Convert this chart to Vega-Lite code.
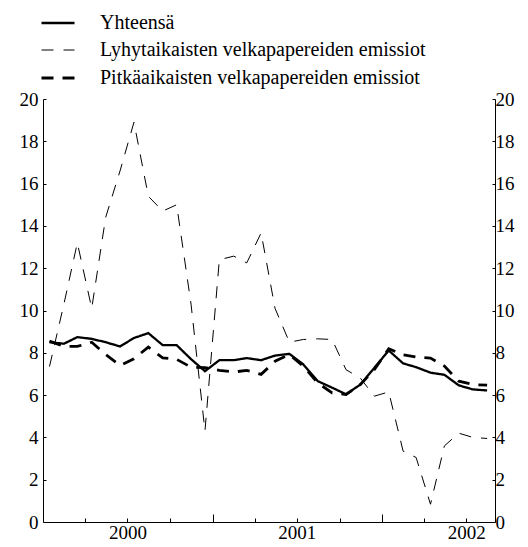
{
  "$schema": "https://vega.github.io/schema/vega-lite/v6.json",
  "width": 452,
  "height": 423,
  "autosize": {"type": "none"},
  "padding": {"left": 43, "top": 99, "right": 33, "bottom": 25},
  "background": "white",
  "config": {
    "view": {"stroke": null},
    "font": "Liberation Serif",
    "axis": {"grid": false, "domainColor": "black", "tickColor": "black", "labelColor": "black", "labelFont": "Liberation Serif", "labelFontSize": 19, "domainWidth": 1, "tickWidth": 1, "title": null},
    "legend": {"labelFont": "Liberation Serif"}
  },
  "data": {"values": [
    {"date": "2000-01-15", "series": "Yhteensä", "value": 8.5},
    {"date": "2000-02-15", "series": "Yhteensä", "value": 8.43},
    {"date": "2000-03-15", "series": "Yhteensä", "value": 8.74},
    {"date": "2000-04-15", "series": "Yhteensä", "value": 8.66},
    {"date": "2000-05-15", "series": "Yhteensä", "value": 8.5},
    {"date": "2000-06-15", "series": "Yhteensä", "value": 8.3},
    {"date": "2000-07-15", "series": "Yhteensä", "value": 8.7},
    {"date": "2000-08-15", "series": "Yhteensä", "value": 8.93},
    {"date": "2000-09-15", "series": "Yhteensä", "value": 8.36},
    {"date": "2000-10-15", "series": "Yhteensä", "value": 8.36},
    {"date": "2000-11-15", "series": "Yhteensä", "value": 7.7},
    {"date": "2000-12-15", "series": "Yhteensä", "value": 7.13},
    {"date": "2001-01-15", "series": "Yhteensä", "value": 7.65},
    {"date": "2001-02-15", "series": "Yhteensä", "value": 7.65},
    {"date": "2001-03-15", "series": "Yhteensä", "value": 7.75},
    {"date": "2001-04-15", "series": "Yhteensä", "value": 7.65},
    {"date": "2001-05-15", "series": "Yhteensä", "value": 7.87},
    {"date": "2001-06-15", "series": "Yhteensä", "value": 7.95},
    {"date": "2001-07-15", "series": "Yhteensä", "value": 7.45},
    {"date": "2001-08-15", "series": "Yhteensä", "value": 6.66},
    {"date": "2001-09-15", "series": "Yhteensä", "value": 6.35},
    {"date": "2001-10-15", "series": "Yhteensä", "value": 6.04},
    {"date": "2001-11-15", "series": "Yhteensä", "value": 6.5},
    {"date": "2001-12-15", "series": "Yhteensä", "value": 7.29},
    {"date": "2002-01-15", "series": "Yhteensä", "value": 8.11},
    {"date": "2002-02-15", "series": "Yhteensä", "value": 7.5},
    {"date": "2002-03-15", "series": "Yhteensä", "value": 7.32},
    {"date": "2002-04-15", "series": "Yhteensä", "value": 7.06},
    {"date": "2002-05-15", "series": "Yhteensä", "value": 6.96},
    {"date": "2002-06-15", "series": "Yhteensä", "value": 6.46},
    {"date": "2002-07-15", "series": "Yhteensä", "value": 6.27},
    {"date": "2002-08-15", "series": "Yhteensä", "value": 6.22},
    {"date": "2000-01-15", "series": "Lyhytaikaisten velkapapereiden emissiot", "value": 7.35},
    {"date": "2000-02-15", "series": "Lyhytaikaisten velkapapereiden emissiot", "value": 10.3},
    {"date": "2000-03-15", "series": "Lyhytaikaisten velkapapereiden emissiot", "value": 13.2},
    {"date": "2000-04-15", "series": "Lyhytaikaisten velkapapereiden emissiot", "value": 10.1},
    {"date": "2000-05-15", "series": "Lyhytaikaisten velkapapereiden emissiot", "value": 14.4},
    {"date": "2000-06-15", "series": "Lyhytaikaisten velkapapereiden emissiot", "value": 16.6},
    {"date": "2000-07-15", "series": "Lyhytaikaisten velkapapereiden emissiot", "value": 18.9},
    {"date": "2000-08-15", "series": "Lyhytaikaisten velkapapereiden emissiot", "value": 15.4},
    {"date": "2000-09-15", "series": "Lyhytaikaisten velkapapereiden emissiot", "value": 14.7},
    {"date": "2000-10-15", "series": "Lyhytaikaisten velkapapereiden emissiot", "value": 15.0},
    {"date": "2000-11-15", "series": "Lyhytaikaisten velkapapereiden emissiot", "value": 10.3},
    {"date": "2000-12-15", "series": "Lyhytaikaisten velkapapereiden emissiot", "value": 4.3},
    {"date": "2001-01-15", "series": "Lyhytaikaisten velkapapereiden emissiot", "value": 12.4},
    {"date": "2001-02-15", "series": "Lyhytaikaisten velkapapereiden emissiot", "value": 12.57},
    {"date": "2001-03-15", "series": "Lyhytaikaisten velkapapereiden emissiot", "value": 12.25},
    {"date": "2001-04-15", "series": "Lyhytaikaisten velkapapereiden emissiot", "value": 13.67},
    {"date": "2001-05-15", "series": "Lyhytaikaisten velkapapereiden emissiot", "value": 10.1},
    {"date": "2001-06-15", "series": "Lyhytaikaisten velkapapereiden emissiot", "value": 8.5},
    {"date": "2001-07-15", "series": "Lyhytaikaisten velkapapereiden emissiot", "value": 8.63},
    {"date": "2001-08-15", "series": "Lyhytaikaisten velkapapereiden emissiot", "value": 8.66},
    {"date": "2001-09-15", "series": "Lyhytaikaisten velkapapereiden emissiot", "value": 8.63},
    {"date": "2001-10-15", "series": "Lyhytaikaisten velkapapereiden emissiot", "value": 7.2},
    {"date": "2001-11-15", "series": "Lyhytaikaisten velkapapereiden emissiot", "value": 6.8},
    {"date": "2001-12-15", "series": "Lyhytaikaisten velkapapereiden emissiot", "value": 5.95},
    {"date": "2002-01-15", "series": "Lyhytaikaisten velkapapereiden emissiot", "value": 6.15},
    {"date": "2002-02-15", "series": "Lyhytaikaisten velkapapereiden emissiot", "value": 3.35},
    {"date": "2002-03-15", "series": "Lyhytaikaisten velkapapereiden emissiot", "value": 3.05},
    {"date": "2002-04-15", "series": "Lyhytaikaisten velkapapereiden emissiot", "value": 0.84},
    {"date": "2002-05-15", "series": "Lyhytaikaisten velkapapereiden emissiot", "value": 3.6},
    {"date": "2002-06-15", "series": "Lyhytaikaisten velkapapereiden emissiot", "value": 4.2},
    {"date": "2002-07-15", "series": "Lyhytaikaisten velkapapereiden emissiot", "value": 4.0},
    {"date": "2002-08-15", "series": "Lyhytaikaisten velkapapereiden emissiot", "value": 3.95},
    {"date": "2000-01-15", "series": "Pitkäaikaisten velkapapereiden emissiot", "value": 8.55},
    {"date": "2000-02-15", "series": "Pitkäaikaisten velkapapereiden emissiot", "value": 8.3},
    {"date": "2000-03-15", "series": "Pitkäaikaisten velkapapereiden emissiot", "value": 8.3},
    {"date": "2000-04-15", "series": "Pitkäaikaisten velkapapereiden emissiot", "value": 8.5},
    {"date": "2000-05-15", "series": "Pitkäaikaisten velkapapereiden emissiot", "value": 7.92},
    {"date": "2000-06-15", "series": "Pitkäaikaisten velkapapereiden emissiot", "value": 7.4},
    {"date": "2000-07-15", "series": "Pitkäaikaisten velkapapereiden emissiot", "value": 7.72},
    {"date": "2000-08-15", "series": "Pitkäaikaisten velkapapereiden emissiot", "value": 8.27},
    {"date": "2000-09-15", "series": "Pitkäaikaisten velkapapereiden emissiot", "value": 7.76},
    {"date": "2000-10-15", "series": "Pitkäaikaisten velkapapereiden emissiot", "value": 7.69},
    {"date": "2000-11-15", "series": "Pitkäaikaisten velkapapereiden emissiot", "value": 7.32},
    {"date": "2000-12-15", "series": "Pitkäaikaisten velkapapereiden emissiot", "value": 7.3},
    {"date": "2001-01-15", "series": "Pitkäaikaisten velkapapereiden emissiot", "value": 7.17},
    {"date": "2001-02-15", "series": "Pitkäaikaisten velkapapereiden emissiot", "value": 7.09},
    {"date": "2001-03-15", "series": "Pitkäaikaisten velkapapereiden emissiot", "value": 7.17},
    {"date": "2001-04-15", "series": "Pitkäaikaisten velkapapereiden emissiot", "value": 6.98},
    {"date": "2001-05-15", "series": "Pitkäaikaisten velkapapereiden emissiot", "value": 7.6},
    {"date": "2001-06-15", "series": "Pitkäaikaisten velkapapereiden emissiot", "value": 7.92},
    {"date": "2001-07-15", "series": "Pitkäaikaisten velkapapereiden emissiot", "value": 7.37},
    {"date": "2001-08-15", "series": "Pitkäaikaisten velkapapereiden emissiot", "value": 6.58},
    {"date": "2001-09-15", "series": "Pitkäaikaisten velkapapereiden emissiot", "value": 6.1},
    {"date": "2001-10-15", "series": "Pitkäaikaisten velkapapereiden emissiot", "value": 6.03},
    {"date": "2001-11-15", "series": "Pitkäaikaisten velkapapereiden emissiot", "value": 6.5},
    {"date": "2001-12-15", "series": "Pitkäaikaisten velkapapereiden emissiot", "value": 7.2},
    {"date": "2002-01-15", "series": "Pitkäaikaisten velkapapereiden emissiot", "value": 8.19},
    {"date": "2002-02-15", "series": "Pitkäaikaisten velkapapereiden emissiot", "value": 7.9},
    {"date": "2002-03-15", "series": "Pitkäaikaisten velkapapereiden emissiot", "value": 7.8},
    {"date": "2002-04-15", "series": "Pitkäaikaisten velkapapereiden emissiot", "value": 7.75},
    {"date": "2002-05-15", "series": "Pitkäaikaisten velkapapereiden emissiot", "value": 7.37},
    {"date": "2002-06-15", "series": "Pitkäaikaisten velkapapereiden emissiot", "value": 6.66},
    {"date": "2002-07-15", "series": "Pitkäaikaisten velkapapereiden emissiot", "value": 6.5},
    {"date": "2002-08-15", "series": "Pitkäaikaisten velkapapereiden emissiot", "value": 6.47}
  ]},
  "layer": [
    {
      "mark": {"type": "line", "stroke": "black", "strokeCap": "butt"},
      "encoding": {
        "x": {
          "field": "date", "type": "temporal",
          "scale": {"domain": [{"year": 2000, "month": 1, "date": 1}, {"year": 2002, "month": 9, "date": 1}]},
          "axis": {
            "values": [
              {"year": 2000, "month": 4, "date": 1}, {"year": 2000, "month": 7, "date": 1}, {"year": 2000, "month": 10, "date": 1},
              {"year": 2001, "month": 1, "date": 1}, {"year": 2001, "month": 4, "date": 1}, {"year": 2001, "month": 7, "date": 1}, {"year": 2001, "month": 10, "date": 1},
              {"year": 2002, "month": 1, "date": 1}, {"year": 2002, "month": 4, "date": 1}, {"year": 2002, "month": 7, "date": 1}
            ],
            "labelExpr": "month(datum.value) == 6 ? timeFormat(datum.value, '%Y') : ''",
            "tickSize": {"condition": {"test": "month(datum.value) == 0", "value": -8}, "value": -4},
            "labelFont": "Liberation Serif",
            "labelFontSize": 19,
            "labelPadding": 5,
            "labelFlush": false,
            "labelOverlap": false
          }
        },
        "y": {
          "field": "value", "type": "quantitative",
          "scale": {"domain": [0, 20], "nice": false},
          "axis": {"orient": "left", "values": [0, 2, 4, 6, 8, 10, 12, 14, 16, 18, 20], "tickSize": -3, "labelPadding": 8, "labelFont": "Liberation Serif", "labelFontSize": 19}
        },
        "strokeDash": {
          "field": "series", "type": "nominal",
          "scale": {"domain": ["Yhteensä", "Lyhytaikaisten velkapapereiden emissiot", "Pitkäaikaisten velkapapereiden emissiot"], "range": [[1, 0], [12, 10], [12, 9]]},
          "legend": {"orient": "none", "legendX": -3, "legendY": -94, "title": null, "labelFont": "Liberation Serif", "labelFontSize": 20, "labelColor": "black", "symbolType": "stroke", "symbolSize": 1089, "symbolStrokeColor": "black", "labelOffset": 24, "rowPadding": -7, "labelLimit": 500}
        },
        "strokeWidth": {
          "field": "series", "type": "nominal",
          "scale": {"type": "ordinal", "domain": ["Yhteensä", "Lyhytaikaisten velkapapereiden emissiot", "Pitkäaikaisten velkapapereiden emissiot"], "range": [2.3, 1, 2.8]},
          "legend": {"orient": "none", "legendX": -3, "legendY": -94, "title": null, "labelFont": "Liberation Serif", "labelFontSize": 20, "labelColor": "black", "symbolType": "stroke", "symbolSize": 1089, "symbolStrokeColor": "black", "labelOffset": 24, "rowPadding": -7, "labelLimit": 500}
        }
      }
    },
    {
      "mark": {"type": "line", "opacity": 0},
      "encoding": {
        "x": {"field": "date", "type": "temporal"},
        "y": {
          "field": "value", "type": "quantitative",
          "scale": {"domain": [0, 20], "nice": false},
          "axis": {"orient": "right", "values": [0, 2, 4, 6, 8, 10, 12, 14, 16, 18, 20], "tickSize": -3, "labelPadding": 3, "labelFont": "Liberation Serif", "labelFontSize": 19}
        },
        "detail": {"field": "series", "type": "nominal"}
      }
    }
  ],
  "resolve": {"scale": {"y": "independent"}}
}
